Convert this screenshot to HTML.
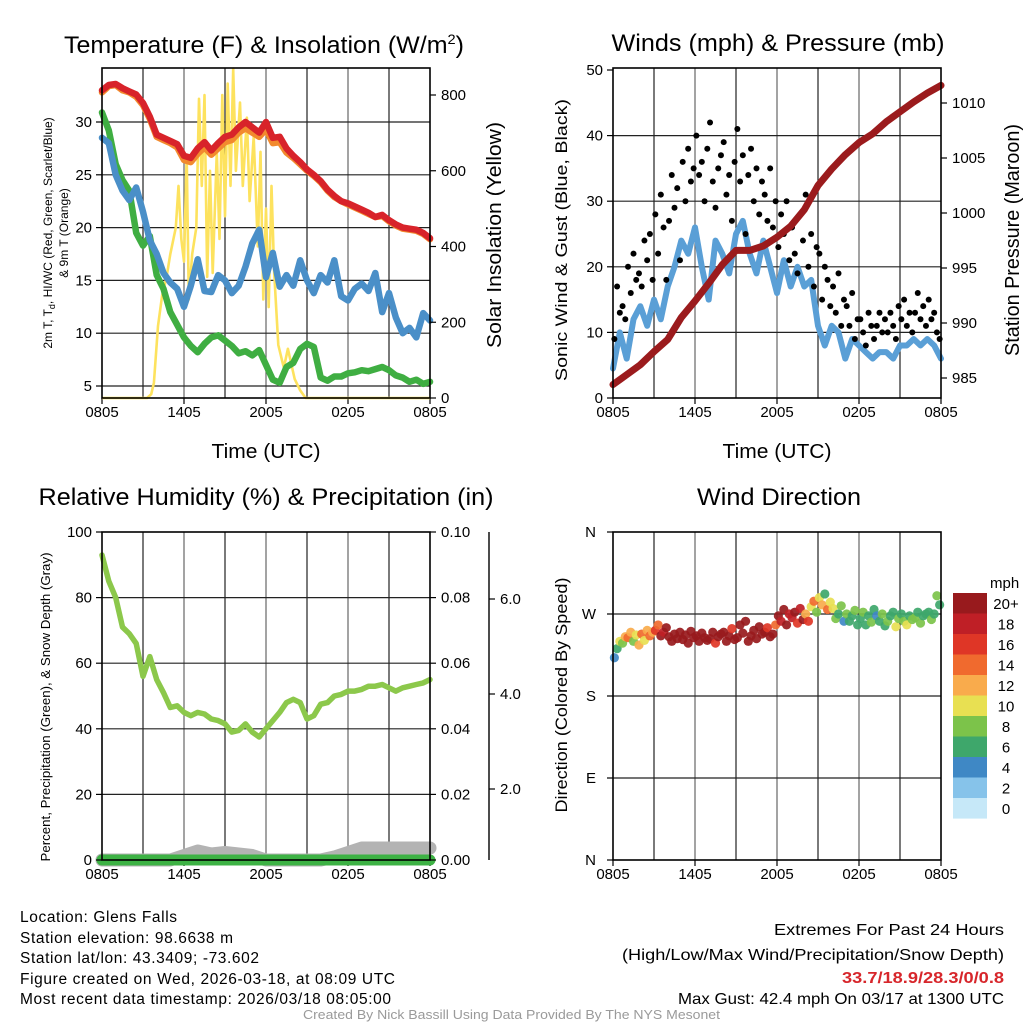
<!DOCTYPE html>
<html><head><meta charset="utf-8"><style>
html,body{margin:0;padding:0;background:#fff}
svg{display:block;font-family:"Liberation Sans",sans-serif}
</style></head><body>
<svg id="chart" width="1024" height="1024" viewBox="0 0 1024 1024" xmlns="http://www.w3.org/2000/svg">
<rect width="1024" height="1024" fill="#fff"/>
<g id="g1"></g>
<g id="g2"></g>
<g id="g3"></g>
<g id="g4"></g>
<text x="64" y="53" font-size="24" textLength="400" lengthAdjust="spacingAndGlyphs">Temperature (F) &amp; Insolation (W/m<tspan dy="-9" font-size="14">2</tspan><tspan dy="9">)</tspan></text>
<text x="778" y="51" font-size="24" text-anchor="middle" textLength="333" lengthAdjust="spacingAndGlyphs">Winds (mph) &amp; Pressure (mb)</text>
<text x="266" y="505" font-size="24" text-anchor="middle" textLength="455" lengthAdjust="spacingAndGlyphs">Relative Humidity (%) &amp; Precipitation (in)</text>
<text x="779" y="505" font-size="24" text-anchor="middle" textLength="164" lengthAdjust="spacingAndGlyphs">Wind Direction</text>
<text x="266" y="458" font-size="20" text-anchor="middle" textLength="109" lengthAdjust="spacingAndGlyphs">Time (UTC)</text>
<text x="777" y="458" font-size="20" text-anchor="middle" textLength="109" lengthAdjust="spacingAndGlyphs">Time (UTC)</text>
<text font-size="12" text-anchor="middle" transform="translate(52,233) rotate(-90)">2m T, T<tspan font-size="9" dy="3">d</tspan><tspan dy="-3">, HI/WC (Red, Green, Scarlet/Blue)</tspan></text>
<text font-size="12" text-anchor="middle" transform="translate(68,233) rotate(-90)">&amp; 9m T (Orange)</text>
<text font-size="20" text-anchor="middle" transform="translate(501,235) rotate(-90)" textLength="226" lengthAdjust="spacingAndGlyphs">Solar Insolation (Yellow)</text>
<text font-size="17" text-anchor="middle" transform="translate(567,240) rotate(-90)" textLength="282" lengthAdjust="spacingAndGlyphs">Sonic Wind &amp; Gust (Blue, Black)</text>
<text font-size="20" text-anchor="middle" transform="translate(1019,240) rotate(-90)" textLength="232" lengthAdjust="spacingAndGlyphs">Station Pressure (Maroon)</text>
<text font-size="12.5" text-anchor="middle" transform="translate(50,707) rotate(-90)" textLength="309" lengthAdjust="spacingAndGlyphs">Percent, Precipitation (Green), &amp; Snow Depth (Gray)</text>
<text font-size="17" text-anchor="middle" transform="translate(567,695) rotate(-90)" textLength="235" lengthAdjust="spacingAndGlyphs">Direction (Colored By Speed)</text>
<g font-size="15.5" lengthAdjust="spacingAndGlyphs">
<text x="20" y="922" textLength="157">Location: Glens Falls</text>
<text x="20" y="943" textLength="213">Station elevation: 98.6638 m</text>
<text x="20" y="963" textLength="239">Station lat/lon: 43.3409; -73.602</text>
<text x="20" y="984" textLength="375">Figure created on Wed, 2026-03-18, at 08:09 UTC</text>
<text x="20" y="1004" textLength="371">Most recent data timestamp: 2026/03/18 08:05:00</text>
</g>
<g font-size="16">
<text x="774" y="935" textLength="230" lengthAdjust="spacingAndGlyphs">Extremes For Past 24 Hours</text>
<text x="622" y="960" textLength="382" lengthAdjust="spacingAndGlyphs">(High/Low/Max Wind/Precipitation/Snow Depth)</text>
<text x="842" y="983" fill="#d7262b" font-weight="bold" textLength="162" lengthAdjust="spacingAndGlyphs">33.7/18.9/28.3/0/0.8</text>
<text x="678" y="1004" textLength="326" lengthAdjust="spacingAndGlyphs">Max Gust: 42.4 mph On 03/17 at 1300 UTC</text>
</g>
<text x="303" y="1019" font-size="12.5" fill="#9a9a9a" textLength="417" lengthAdjust="spacingAndGlyphs">Created By Nick Bassill Using Data Provided By The NYS Mesonet</text>
</svg>
<script>
// ---- data ----
const timeLabels = ["0805","1405","2005","0205","0805"];
const tempRed = [33,33.5,33.6,33.2,32.9,32.6,31.8,30.5,28.8,28.5,28.2,27.9,26.8,26.6,27.5,28.1,27.3,28.0,28.6,28.8,29.5,30.0,29.5,29.0,30.0,28.5,28.6,27.5,26.8,26.2,25.5,25.0,24.4,23.6,23.0,22.5,22.3,22.0,21.7,21.4,21.0,21.2,20.7,20.3,20.0,19.9,19.8,19.5,19.0];
const tempOrange = [32.8,33.4,33.5,33.0,32.8,32.4,31.6,30.3,28.6,28.3,28.0,27.6,26.4,26.2,27.0,27.6,26.9,27.5,28.1,28.3,29.0,29.4,29.0,28.6,29.3,28.0,28.1,27.1,26.6,26.0,25.4,24.9,24.3,23.5,22.9,22.5,22.2,21.9,21.6,21.3,21.0,21.1,20.6,20.2,19.9,19.8,19.7,19.4,18.9];
const tempGreen = [30.9,29.2,26,24.5,23.5,19.5,18.3,19.2,15.5,14.2,12,10.8,9.6,8.8,8.2,9.0,9.6,9.8,9.3,8.8,8.1,8.3,7.9,8.4,7.0,5.6,5.3,6.8,7.2,8.5,9.0,8.7,5.8,5.5,5.9,5.9,6.2,6.3,6.5,6.4,6.6,6.8,6.5,6.0,5.8,5.4,5.6,5.2,5.4];
const tempBlue = [28.5,28,25,23.5,22.6,23.8,21.5,18.8,17.5,15.7,14.8,14.2,12.5,14.5,17.0,14.0,13.9,15.5,15.0,13.8,14.5,16.3,18.5,19.8,15.3,17.6,14.4,15.5,14.5,16.9,15.0,13.8,15.5,14.8,16.9,13.5,13.1,14.2,14.7,14.0,15.7,12.0,13.8,11.5,10.0,10.5,9.6,11.9,11.2];
const solarHours = [0,3.3,3.6,3.8,4.1,4.4,4.73,5.0,5.4,5.6,5.8,6.0,6.2,6.35,6.6,6.9,7.1,7.3,7.5,7.7,7.9,8.1,8.4,8.6,8.8,9.0,9.2,9.4,9.6,9.8,10.1,10.3,10.6,10.8,11.1,11.4,11.6,11.8,12.0,12.2,12.4,12.6,12.9,13.3,13.6,14.1,14.5,14.9,24];
const solarValues = [0,0,10,40,190,270,320,380,450,560,420,360,640,260,380,450,790,560,800,320,600,330,650,420,800,480,830,560,870,600,780,560,740,520,690,400,650,260,500,240,560,330,140,80,130,50,20,0,0];
const windSpeed = [4.5,10,6,12,14,11,15,12,17,20,24,22,26,20,15,24,22,19,25,27,22,19,24,20,16,21,17,20,17,18,11,8,11,10,6,9,8,7,6,7,7,6,8,8,9,8,9,8,6];
const gustSpeed = [9,17,13,14,12, 20,16,22,18,19, 17,24,21,25,18, 28,22,31,26,18, 27,34,29,32,21, 36,30,38,33,35, 40,34,36,30,38, 42,33,29,35,37, 39,31,34,27,36, 41,33,37,25,34, 38,30,35,28,33, 31,27,35,26,30, 23,28,25,30,21, 26,22,19,28,24, 31,20,25,17,23, 22,15,20,18,14, 17,13,19,11,15, 14,11,16,9,12, 12,10,8,13,11, 9,11,13,10,12, 10,13,11,9,14, 12,15,11,13,10, 13,16,12,14,11, 15,12,13,10,9];
const pressure = [984.4,985.3,986.2,987.4,988.5,990.5,992.0,993.6,995.3,996.6,996.6,997.0,997.8,998.8,1000.3,1002.5,1004.0,1005.3,1006.4,1007.2,1008.3,1009.2,1010.1,1010.9,1011.6];
const relHum = [93,85,80,71,69,66,56,62,55,51,46.5,47,45,44,45,44.5,43,42.5,41.5,39,39.5,41.5,39,37.5,40,42.5,45,48,49,48,43,44,47.5,48,50,50.5,51.5,51.5,52,53,53,53.5,52.5,51.5,52.5,53,53.5,54,55];
const snowDepth = [0,0,0,0,0,0,0.3,0.6,0.4,0.5,0.4,0.3,0,0,0,0,0,0.2,0.5,0.8,0.8,0.8,0.8,0.8,0.8];
const precip = [0,0,0,0,0,0,0,0,0,0,0,0,0,0,0,0,0,0,0,0,0,0,0,0,0];
const windDir = [222,232,240,238,245, 244,250,240,247,236, 248,241,252,246,250, 252,258,246,250,255, 245,240,248,243,250, 242,247,238,251,244, 246,240,249,244,241, 243,250,238,245,248, 250,240,246,254,242, 244,258,249,262,240, 246,252,243,256,248, 250,255,245,248,258, 268,262,275,258,270, 266,272,260,276,264, 270,262,278,284,272, 288,280,292,275,283, 276,265,270,279,262, 270,262,268,274,258, 265,272,258,268,261, 275,268,262,270,257, 262,268,272,256,265, 270,262,258,268,264, 266,272,260,268,270, 272,264,270,290,280];
const dirSpeed = [4,6,10,8,12, 14,12,8,10,13, 15,11,13,14,12, 16,14,20,19,20, 20,21,22,20,21, 22,20,21,20,22, 20,21,22,20,21, 21,20,17,20,22, 20,22,21,16,21, 20,21,20,22,21, 21,20,22,20,21, 20,16,21,20,14, 20,18,21,20,19, 18,20,17,19,21, 12,17,11,14,9, 10,12,6,14,11, 11,8,7,9,4, 8,7,6,8,7, 7,8,6,7,8, 7,4,6,8,7, 8,6,7,10,8, 7,8,10,6,8, 8,7,9,6,7, 6,9,7,8,6];
const tempTicks = [5,10,15,20,25,30];
const solarTicks = [0,200,400,600,800];
const windTicks = [0,10,20,30,40,50];
const presTicks = [985,990,995,1000,1005,1010];
const rhTicks = [0,20,40,60,80,100];
const precipTicks = ["0.00","0.02","0.04","0.06","0.08","0.10"];
const snowTicks = ["2.0","4.0","6.0"];
const dirLabels = ["N","E","S","W","N"];
const speedBins = ["0","2","4","6","8","10","12","14","16","18","20+"];
const speedColors = ["#c6e8f8","#86c3ea","#3f88c5","#3ea76b","#7cc34a","#e8e052","#f9ab4c","#f06a2e","#df3626","#bf1f26","#981a1d"];

// ---- helpers ----
const NS="http://www.w3.org/2000/svg";
function mk(parent, tag, attrs){const e=document.createElementNS(NS,tag);for(const k in attrs)e.setAttribute(k,attrs[k]);parent.appendChild(e);return e;}
function lin(d0,d1,r0,r1){return v=>r0+(v-d0)*(r1-r0)/(d1-d0);}
function pathFrom(xs,ys){return xs.map((x,i)=>(i?"L":"M")+x.toFixed(1)+","+ys[i].toFixed(1)).join("");}

function frame(g, L, T, R, B, hGrid, prefix){
  const xh=lin(0,24,L,R);
  for(let i=1;i<8;i++){const l=mk(g,"line",{x1:xh(i*3),x2:xh(i*3),y1:T,y2:B,stroke:i%2?"#222":"#666","stroke-width":1.2});
    
    }
  hGrid.forEach(y=>{const l=mk(g,"line",{x1:L,x2:R,y1:y,y2:y,stroke:"#222","stroke-width":1.2});
    
    });
  timeLabels.forEach((t,i)=>{const x=xh(i*6);
    const tk=mk(g,"line",{x1:x,x2:x,y1:B,y2:B+6,stroke:"#000","stroke-width":1.2});
    
    
    const tx=mk(g,"text",{x:x,y:B+19,"font-size":15,"text-anchor":"middle"});tx.textContent=t;
    
    });
  return xh;
}
function border(g,L,T,R,B,prefix){const r=mk(g,"rect",{x:L,y:T,width:R-L,height:B-T,fill:"none",stroke:"#000","stroke-width":1.6});
  
  }
function yTicks(g,vals,labels,scale,x,side,prefix){
  vals.forEach((v,i)=>{const y=scale(v);
    const tk=mk(g,"line",{x1:x,x2:x+(side>0?6:-6),y1:y,y2:y,stroke:"#000","stroke-width":1.2});
    
    
    const tx=mk(g,"text",{x:x+(side>0?11:-10),y:y+5,"font-size":15,"text-anchor":side>0?"start":"end"});tx.textContent=labels[i];
    
    });
}
const halfHours = tempRed.map((_,i)=>i*0.5);
const hours = pressure.map((_,i)=>i);

// ---- panel 1 ----
(function(){
  const g=document.getElementById("g1");const L=102,T=68,R=430,B=398;
  const yT=lin(5,30,386,122), yS=lin(0,800,398,95);
  const xh=frame(g,L,T,R,B,tempTicks.map(yT),"temp");
  const ys=mk(g,"path",{d:pathFrom(solarHours.map(xh),solarValues.map(yS)),fill:"none",stroke:"#fde25e","stroke-width":2.6,"stroke-linejoin":"round"});
  
  
  [[tempGreen,"#3fae42","td-line"],[tempBlue,"#4a8fc8","windchill-line"],[tempOrange,"#f28a2e","temp9m-line"],[tempRed,"#d8232a","temp2m-line"]].forEach(s=>{
    const p=mk(g,"path",{d:pathFrom(halfHours.map(xh),s[0].map(yT)),fill:"none",stroke:s[1],"stroke-width":6.5,"stroke-linejoin":"round","stroke-linecap":"round"});
    
    });
  border(g,L,T,R,B,"temp");
  yTicks(g,tempTicks,tempTicks.map(String),yT,L,-1,"temp-y");
  yTicks(g,solarTicks,solarTicks.map(String),yS,R,1,"solar-y");
})();

// ---- panel 2 ----
(function(){
  const g=document.getElementById("g2");const L=613,T=68,R=941,B=398;
  const yW=lin(0,50,398,70), yP=lin(985,1010,378,103);
  const xh=frame(g,L,T,R,B,[10,20,30,40].map(yW),"wind");
  const wp=mk(g,"path",{d:pathFrom(halfHours.map(xh),windSpeed.map(yW)),fill:"none",stroke:"#5a9fd6","stroke-width":6,"stroke-linejoin":"round","stroke-linecap":"round"});
  
  
  gustSpeed.forEach((v,i)=>{const c=mk(g,"circle",{cx:xh(i*0.2+0.1),cy:yW(v),r:3,fill:"#000"});
    
    });
  const pp=mk(g,"path",{d:pathFrom(hours.map(xh),pressure.map(yP)),fill:"none",stroke:"#9b1b1d","stroke-width":7,"stroke-linejoin":"round","stroke-linecap":"round"});
  
  
  border(g,L,T,R,B,"wind");
  yTicks(g,windTicks,windTicks.map(String),yW,L,-1,"wind-y");
  yTicks(g,presTicks,presTicks.map(String),yP,R,1,"pressure-y");
})();

// ---- panel 3 ----
(function(){
  const g=document.getElementById("g3");const L=102,T=532,R=430,B=860;
  const yR=lin(0,100,860,532), yPr=lin(0,0.1,860,532), ySn=lin(0,1,860,845);
  const xh=frame(g,L,T,R,B,[20,40,60,80].map(yR),"rh");
  const sp=mk(g,"path",{d:pathFrom(hours.map(xh),snowDepth.map(ySn)),fill:"none",stroke:"#b3b3b3","stroke-width":13,"stroke-linejoin":"round","stroke-linecap":"round"});
  
  
  const pr=mk(g,"path",{d:pathFrom(hours.map(xh),precip.map(yPr)),fill:"none",stroke:"#3db244","stroke-width":11,"stroke-linecap":"round"});
  
  
  const rp=mk(g,"path",{d:pathFrom(halfHours.map(xh),relHum.map(yR)),fill:"none",stroke:"#8cc84b","stroke-width":5.5,"stroke-linejoin":"round","stroke-linecap":"round"});
  
  
  border(g,L,T,R,B,"rh");
  yTicks(g,rhTicks,rhTicks.map(String),yR,L,-1,"rh-y");
  yTicks(g,precipTicks.map(Number),precipTicks,yPr,R,1,"precip-y");
  const ax=mk(g,"line",{x1:489,x2:489,y1:532,y2:860,stroke:"#000","stroke-width":1.4});
  
  
  const ySnAx=lin(2,6,789,599);
  yTicks(g,snowTicks.map(Number),snowTicks,ySnAx,489,1,"snow-y");
})();

// ---- panel 4 ----
(function(){
  const g=document.getElementById("g4");const L=613,T=532,R=941,B=860;
  const yD=lin(0,360,860,532);
  const xh=frame(g,L,T,R,B,[90,180,270].map(yD),"dir");
  windDir.forEach((d,i)=>{const s=dirSpeed[i];const bin=Math.min(10,Math.floor(s/2));
    const c=mk(g,"circle",{cx:xh(i*0.2+0.1),cy:yD(d),r:4.6,fill:speedColors[bin],"fill-opacity":0.92});
    
    });
  border(g,L,T,R,B,"dir");
  dirLabels.forEach((t,i)=>{const y=yD(i*90);
    const tk=mk(g,"line",{x1:L,x2:L-6,y1:y,y2:y,stroke:"#000","stroke-width":1.2});
    
    
    const tx=mk(g,"text",{x:L-17,y:y+5,"font-size":15,"text-anchor":"end"});tx.textContent=t;
    
    });
  const cb=mk(g,"g",{});
  
  
  const t=mk(cb,"text",{x:990,y:588,"font-size":15});t.textContent="mph";
  
  
  for(let k=10;k>=0;k--){const y=593+(10-k)*20.5;
    const r=mk(cb,"rect",{x:953,y:y,width:34,height:20.6,fill:speedColors[k]});
    
    
    const tx=mk(cb,"text",{x:1006,y:y+16,"font-size":15,"text-anchor":"middle"});tx.textContent=speedBins[k];
    
    }
})();
</script>
</body></html>
